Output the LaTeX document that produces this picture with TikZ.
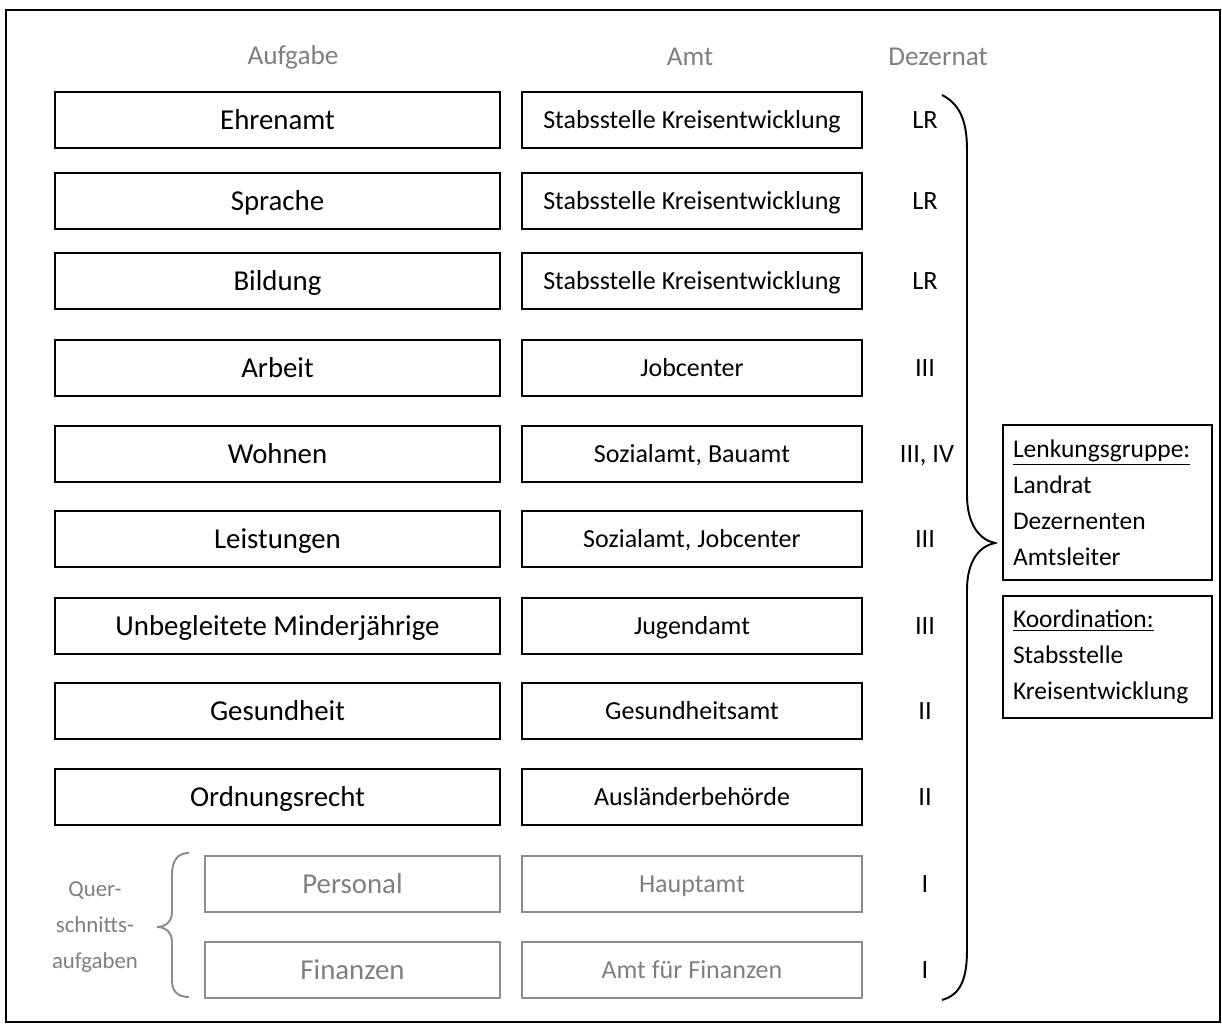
\documentclass[tikz,border=0pt]{standalone}
\usepackage{fontspec}
\setmainfont{Carlito}
\definecolor{grautext}{HTML}{7F7F7F}
\definecolor{graulinie}{HTML}{8C8C8C}
\begin{document}
\begin{tikzpicture}[
    aufgabe/.style={draw,line width=1.1pt,minimum width=8.9cm,minimum height=1.12cm,text height=10.6pt,text depth=0pt,font=\fontsize{16.4}{20}\selectfont},
    amt/.style={draw,line width=1.1pt,minimum width=6.8cm,minimum height=1.12cm,text height=9.5pt,text depth=0pt,font=\fontsize{14.8}{18}\selectfont},
    dez/.style={text height=9.7pt,text depth=0pt,font=\fontsize{15}{18}\selectfont},
    kopf/.style={text=grautext,font=\fontsize{15.5}{18}\selectfont},
    querbox/.style={aufgabe,draw=graulinie,text=grautext,minimum width=5.9cm},
    queramt/.style={amt,draw=graulinie,text=grautext},
    gremium/.style={draw,line width=1.1pt,inner xsep=0.2cm,text width=3.78cm,align=left,font=\fontsize{14.5}{20.4}\selectfont}
]
            \useasboundingbox (0,0) rectangle (24.44,20.56);
            \draw [line width=1.1pt] (0.12,0.12) rectangle (24.40,20.36);

            % Spaltenkoepfe
            \node[kopf] (HA) at (5.86,19.42) {Aufgabe};
            \node[kopf] (HB) at (13.80,19.42) {Amt};
            \node[kopf] (HC) at (18.76,19.42) {Dezernat};

            % Aufgaben
            \node[aufgabe] (A1) at (5.55,18.16) {Ehrenamt};
            \node[aufgabe] (A2) at (5.55,16.54) {Sprache};
            \node[aufgabe] (A3) at (5.55,14.94) {Bildung};
            \node[aufgabe] (A4) at (5.55,13.20) {Arbeit};
            \node[aufgabe] (A5) at (5.55,11.48) {Wohnen};
            \node[aufgabe] (A6) at (5.55,9.78) {Leistungen};
            \node[aufgabe] (A7) at (5.55,8.04) {Unbegleitete Minderjährige};
            \node[aufgabe] (A8) at (5.55,6.34) {Gesundheit};
            \node[aufgabe] (A9) at (5.55,4.62) {Ordnungsrecht};
            \node[querbox] (A10) at (7.05,2.88) {Personal};
            \node[querbox] (A11) at (7.05,1.16) {Finanzen};

            % Aemter
            \node[amt] (B1) at (13.84,18.16) {Stabsstelle Kreisentwicklung};
            \node[amt] (B2) at (13.84,16.54) {Stabsstelle Kreisentwicklung};
            \node[amt] (B3) at (13.84,14.94) {Stabsstelle Kreisentwicklung};
            \node[amt] (B4) at (13.84,13.20) {Jobcenter};
            \node[amt] (B5) at (13.84,11.48) {Sozialamt, Bauamt};
            \node[amt] (B6) at (13.84,9.78) {Sozialamt, Jobcenter};
            \node[amt] (B7) at (13.84,8.04) {Jugendamt};
            \node[amt] (B8) at (13.84,6.34) {Gesundheitsamt};
            \node[amt] (B9) at (13.84,4.62) {Ausländerbehörde};
            \node[queramt] (B10) at (13.84,2.88) {Hauptamt};
            \node[queramt] (B11) at (13.84,1.16) {Amt für Finanzen};

            % Dezernate
            \node[dez] (C1) at (18.50,18.16) {LR};
            \node[dez] (C2) at (18.50,16.54) {LR};
            \node[dez] (C3) at (18.50,14.94) {LR};
            \node[dez] (C4) at (18.50,13.20) {III};
            \node[dez] (C5) at (18.54,11.48) {III, IV};
            \node[dez] (C6) at (18.50,9.78) {III};
            \node[dez] (C7) at (18.50,8.04) {III};
            \node[dez] (C8) at (18.50,6.34) {II};
            \node[dez] (C9) at (18.50,4.62) {II};
            \node[dez] (C10) at (18.50,2.88) {I};
            \node[dez] (C11) at (18.50,1.16) {I};

            % Gremien
            \node[gremium,minimum height=3.10cm] (G1) at (22.15,10.51) {\underline{Lenkungsgruppe:}\\Landrat\\Dezernenten\\Amtsleiter};
            \node[gremium,minimum height=2.44cm] (G2) at (22.15,7.42) {\underline{Koordination:}\\Stabsstelle\\Kreisentwicklung};

            \node[align=center,text=grautext,font=\fontsize{13}{20.4}\selectfont] (Q) at (1.90,2.02) {Quer-\\schnitts-\\aufgaben};

            % Klammern
            \draw [line width=1.1pt] (18.84,18.66) .. controls (19.24,18.46) and (19.34,18.06) .. (19.34,17.56)
                -- (19.34,10.66) .. controls (19.34,10.06) and (19.60,9.76) .. (19.90,9.70)
                .. controls (19.60,9.64) and (19.34,9.36) .. (19.34,8.76)
                -- (19.34,1.56) .. controls (19.34,0.96) and (19.20,0.66) .. (18.84,0.56);
            \draw [graulinie,line width=1.1pt] (3.78,3.50) .. controls (3.56,3.50) and (3.44,3.36) .. (3.44,3.06)
                -- (3.44,2.32) .. controls (3.44,2.12) and (3.30,2.02) .. (3.14,2.02)
                .. controls (3.30,2.02) and (3.44,1.92) .. (3.44,1.72)
                -- (3.44,0.96) .. controls (3.44,0.72) and (3.56,0.62) .. (3.78,0.62);
        \end{tikzpicture}
\end{document}
